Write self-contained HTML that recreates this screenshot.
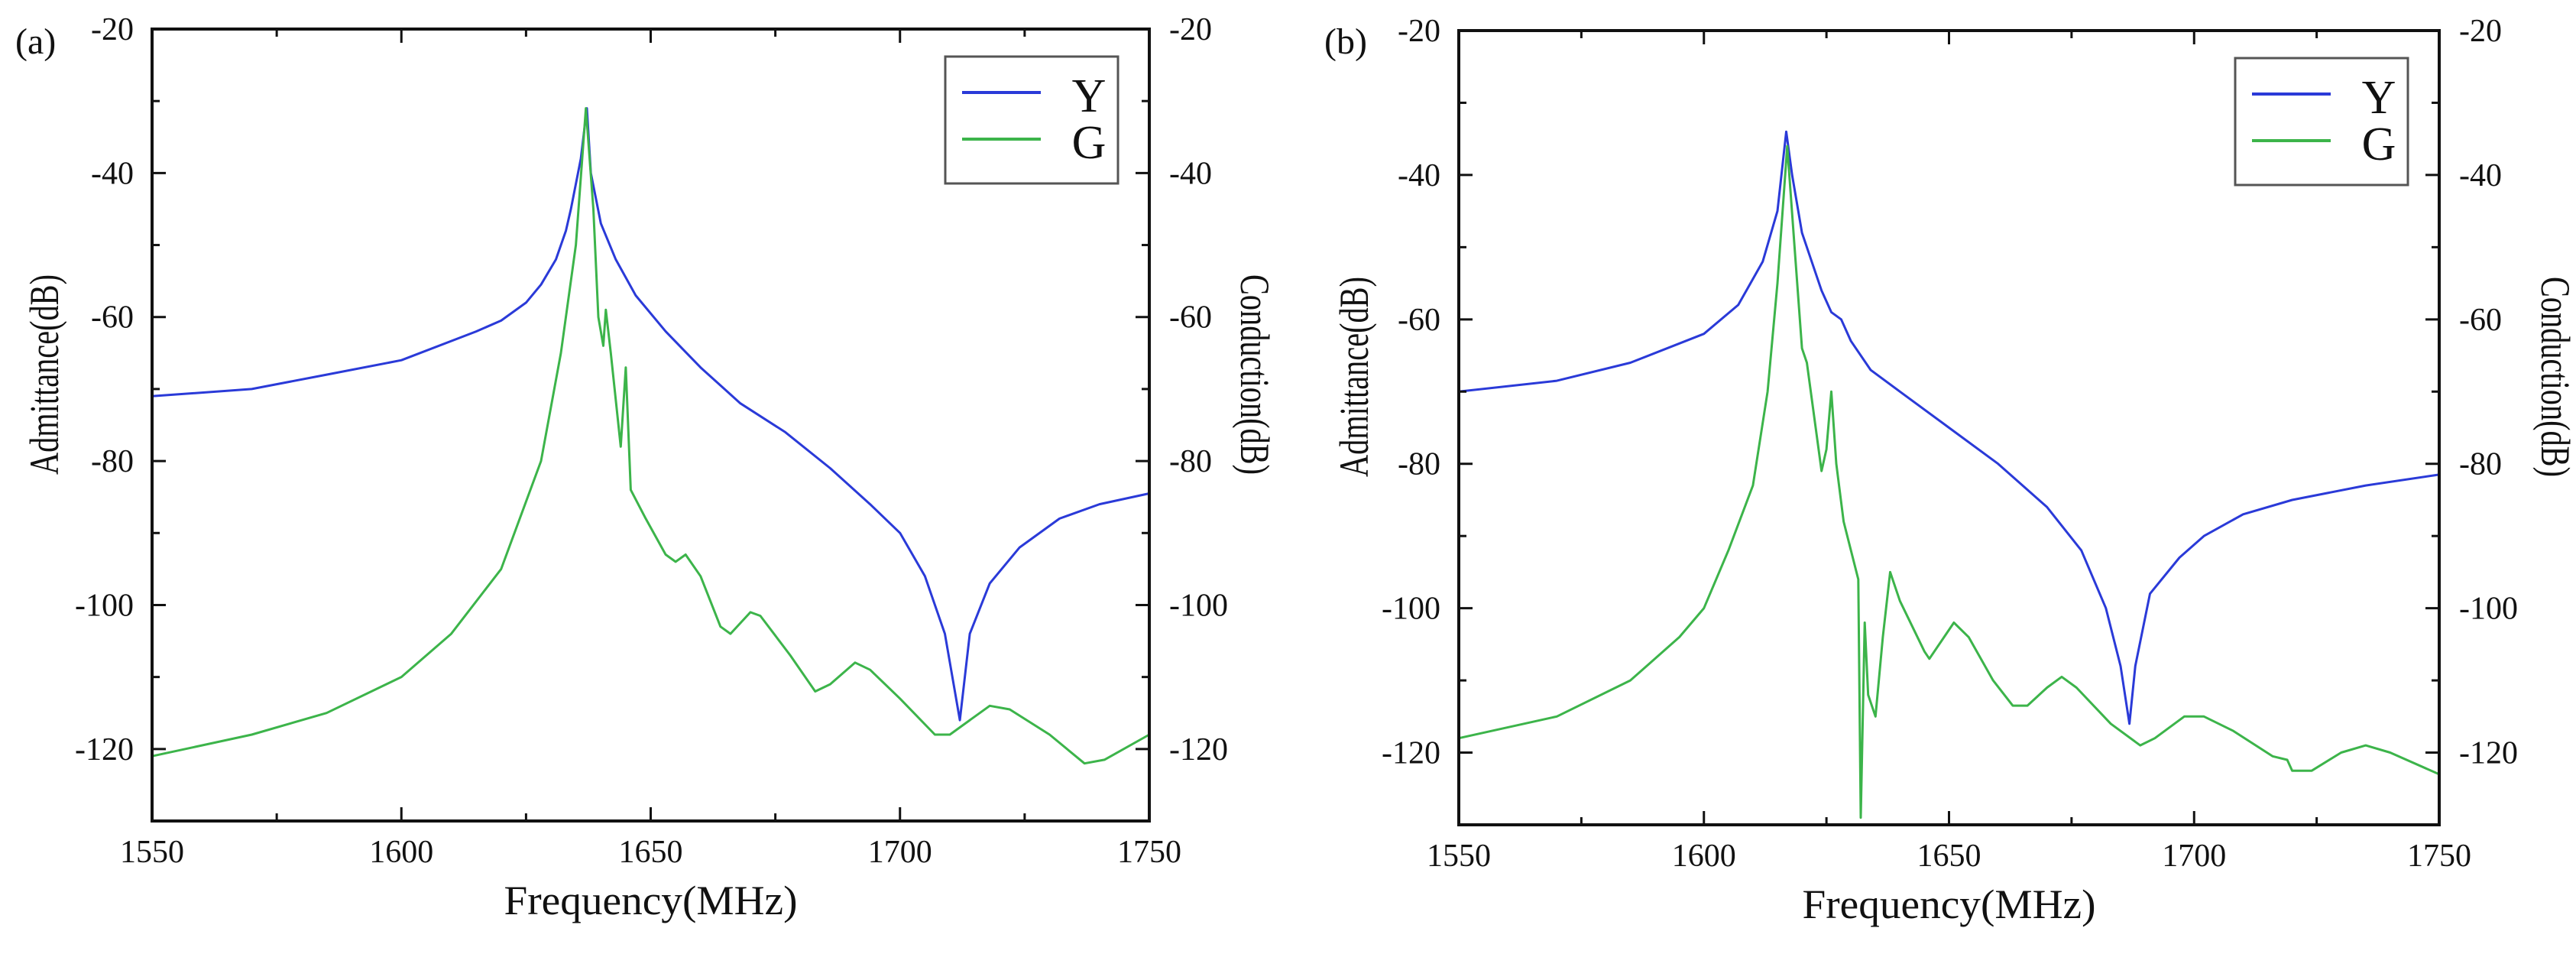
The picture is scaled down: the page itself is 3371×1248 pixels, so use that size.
<!DOCTYPE html>
<html><head><meta charset="utf-8"><style>
html,body{margin:0;padding:0;background:#fff;}
svg{display:block;font-family:"Liberation Serif",serif;}
</style></head><body>
<svg id="chart" width="3371" height="1248" viewBox="0 0 3371 1248" xmlns="http://www.w3.org/2000/svg"></svg>
<script>
// Panel (a) data
const aYFreq = [1550,1570,1585,1600,1615,1620,1625,1628,1631,1633,1634,1636,1637.2,1638,1640,1643,1647,1653,1660,1668,1677,1686,1694,1700,1705,1709,1712,1714,1718,1724,1732,1740,1750];
const aYVals = [-71,-70,-68,-66,-62,-60.5,-58,-55.5,-52,-48,-45,-38,-31,-40,-47,-52,-57,-62,-67,-72,-76,-81,-86,-90,-96,-104,-116,-104,-97,-92,-88,-86,-84.5];
const aGFreq = [1550,1570,1585,1600,1610,1620,1628,1632,1635,1637,1638.5,1639.5,1640.5,1641,1642,1644,1645,1646,1649,1653,1655,1657,1660,1664,1666,1670,1672,1678,1683,1686,1691,1694,1700,1707,1710,1714,1718,1722,1730,1737,1741,1750];
const aGVals = [-121,-118,-115,-110,-104,-95,-80,-65,-50,-31,-45,-60,-64,-59,-65,-78,-67,-84,-88,-93,-94,-93,-96,-103,-104,-101,-101.5,-107,-112,-111,-108,-109,-113,-118,-118,-116,-114,-114.5,-118,-122,-121.5,-118];
// Panel (b) data
const bYFreq = [1550,1570,1585,1600,1607,1612,1615,1616.8,1618,1620,1622,1624,1626,1628,1630,1634,1640,1650,1660,1670,1677,1682,1685,1686.8,1688,1691,1697,1702,1710,1720,1735,1750];
const bYVals = [-70,-68.5,-66,-62,-58,-52,-45,-34,-40,-48,-52,-56,-59,-60,-63,-67,-70,-75,-80,-86,-92,-100,-108,-116,-108,-98,-93,-90,-87,-85,-83,-81.5];
const bGFreq = [1550,1570,1585,1595,1600,1605,1610,1613,1615,1617,1618.5,1620,1621,1623,1624,1625,1626,1627,1628.5,1630,1631.5,1632,1632.8,1633.5,1635,1636.5,1638,1640,1645,1646,1649,1651,1654,1659,1663,1666,1670,1673,1676,1683,1689,1692,1698,1702,1708,1716,1719,1720,1724,1730,1735,1740,1750];
const bGVals = [-118,-115,-110,-104,-100,-92,-83,-70,-55,-36,-50,-64,-66,-76,-81,-78,-70,-80,-88,-92,-96,-129,-102,-112,-115,-104,-95,-99,-106,-107,-104,-102,-104,-110,-113.5,-113.5,-111,-109.5,-111,-116,-119,-118,-115,-115,-117,-120.5,-121,-122.5,-122.5,-120,-119,-120,-123];
const xTicks = [1550,1600,1650,1700,1750];
const yTicks = [-20,-40,-60,-80,-100,-120];
const seriesNames = ["Y","G"];

const NS = "http://www.w3.org/2000/svg";
const svg = document.getElementById("chart");
function mk(tag, attrs, parent){
  const e = document.createElementNS(NS, tag);
  for (const k in attrs) e.setAttribute(k, attrs[k]);
  (parent||svg).appendChild(e);
  return e;
}
const BLUE = "#2a3ad8", GREEN = "#3cb44a";

function panel(p){
  const g = mk("g", {});
  
  
  const xs = f => p.L + (f - 1550) / 200 * (p.R - p.L);
  const ys = v => p.T + (-20 - v) / 110 * (p.B - p.T);
  function line(fr, vals, color, name){
    const d = fr.map((f,i)=> (i?"L":"M") + xs(f).toFixed(1) + " " + ys(vals[i]).toFixed(1)).join(" ");
    const pth = mk("path", {d:d, fill:"none", stroke:color, "stroke-width":3, "stroke-linejoin":"round"}, g);
    
    
  }
  line(p.yF, p.yV, BLUE, 'admittance-curve-y');
  line(p.gF, p.gV, GREEN, 'conduction-curve-g');
  const fr = mk("rect", {x:p.L, y:p.T, width:p.R-p.L, height:p.B-p.T, fill:"none", stroke:"#111", "stroke-width":4}, g);
  
  
  for (let f=1550; f<=1750; f+=25){
    const major = (f % 50) === 0;
    const len = major ? 18 : 10;
    const x = xs(f);
    mk("line", {x1:x, x2:x, y1:p.B, y2:p.B-len, stroke:"#111", "stroke-width":3}, g);
    mk("line", {x1:x, x2:x, y1:p.T, y2:p.T+len, stroke:"#111", "stroke-width":3}, g);
  }
  xTicks.forEach(f=>{
    const t = mk("text", {x:xs(f), y:p.B+54, "font-size":42, "text-anchor":"middle", fill:"#111"}, g);
    t.textContent = f;
    
    
  });
  for (let v=-20; v>=-130; v-=10){
    const major = (v % 20) === 0;
    const len = major ? 18 : 10;
    const y = ys(v);
    mk("line", {x1:p.L, x2:p.L+len, y1:y, y2:y, stroke:"#111", "stroke-width":3}, g);
    mk("line", {x1:p.R, x2:p.R-len, y1:y, y2:y, stroke:"#111", "stroke-width":3}, g);
  }
  yTicks.forEach(v=>{
    const t1 = mk("text", {x:p.L-24, y:ys(v)+14, "font-size":42, "text-anchor":"end", fill:"#111"}, g);
    t1.textContent = v;
    
    
    const t2 = mk("text", {x:p.R+26, y:ys(v)+14, "font-size":42, "text-anchor":"start", fill:"#111"}, g);
    t2.textContent = v;
    
    
  });
  const xt = mk("text", {x:(p.L+p.R)/2, y:p.B+122, "font-size":54, "text-anchor":"middle", fill:"#111", textLength:384, lengthAdjust:"spacingAndGlyphs"}, g);
  xt.textContent = "Frequency(MHz)";
  
  
  const yl = mk("text", {x:0, y:0, "font-size":54, "text-anchor":"middle", fill:"#111", transform:`translate(${p.ylx},${p.ymid}) rotate(-90)`, textLength:262, lengthAdjust:"spacingAndGlyphs"}, g);
  yl.textContent = "Admittance(dB)";
  
  
  const yr = mk("text", {x:0, y:0, "font-size":54, "text-anchor":"middle", fill:"#111", transform:`translate(${p.yrx},${p.ymid}) rotate(90)`, textLength:262, lengthAdjust:"spacingAndGlyphs"}, g);
  yr.textContent = "Conduction(dB)";
  
  
  const pl = mk("text", {x:p.labX, y:70, "font-size":48, fill:"#111"}, g);
  pl.textContent = "(" + p.id + ")";
  
  
  const lg = mk("g", {}, g);
  
  
  const lx = p.R - 267, ly = p.T + 36;
  mk("rect", {x:lx, y:ly, width:226, height:166, fill:"#fff", stroke:"#555", "stroke-width":3}, lg);
  [BLUE, GREEN].forEach((c,i)=>{
    const row = mk("g", {}, lg);
    
    
    const yy = ly + 47 + i*61;
    mk("line", {x1:lx+22, x2:lx+125, y1:yy, y2:yy, stroke:c, "stroke-width":4}, row);
    const t = mk("text", {x:lx+188, y:yy+25, "font-size":62, "text-anchor":"middle", fill:"#111"}, row);
    t.textContent = seriesNames[i];
  });
}
panel({id:"a", L:199, R:1504, T:38, B:1074, yF:aYFreq, yV:aYVals, gF:aGFreq, gV:aGVals, ylx:76, yrx:1624, ymid:490, labX:20});
panel({id:"b", L:1909, R:3192, T:40, B:1079, yF:bYFreq, yV:bYVals, gF:bGFreq, gV:bGVals, ylx:1790, yrx:3326, ymid:493, labX:1733});
</script>
</body></html>
